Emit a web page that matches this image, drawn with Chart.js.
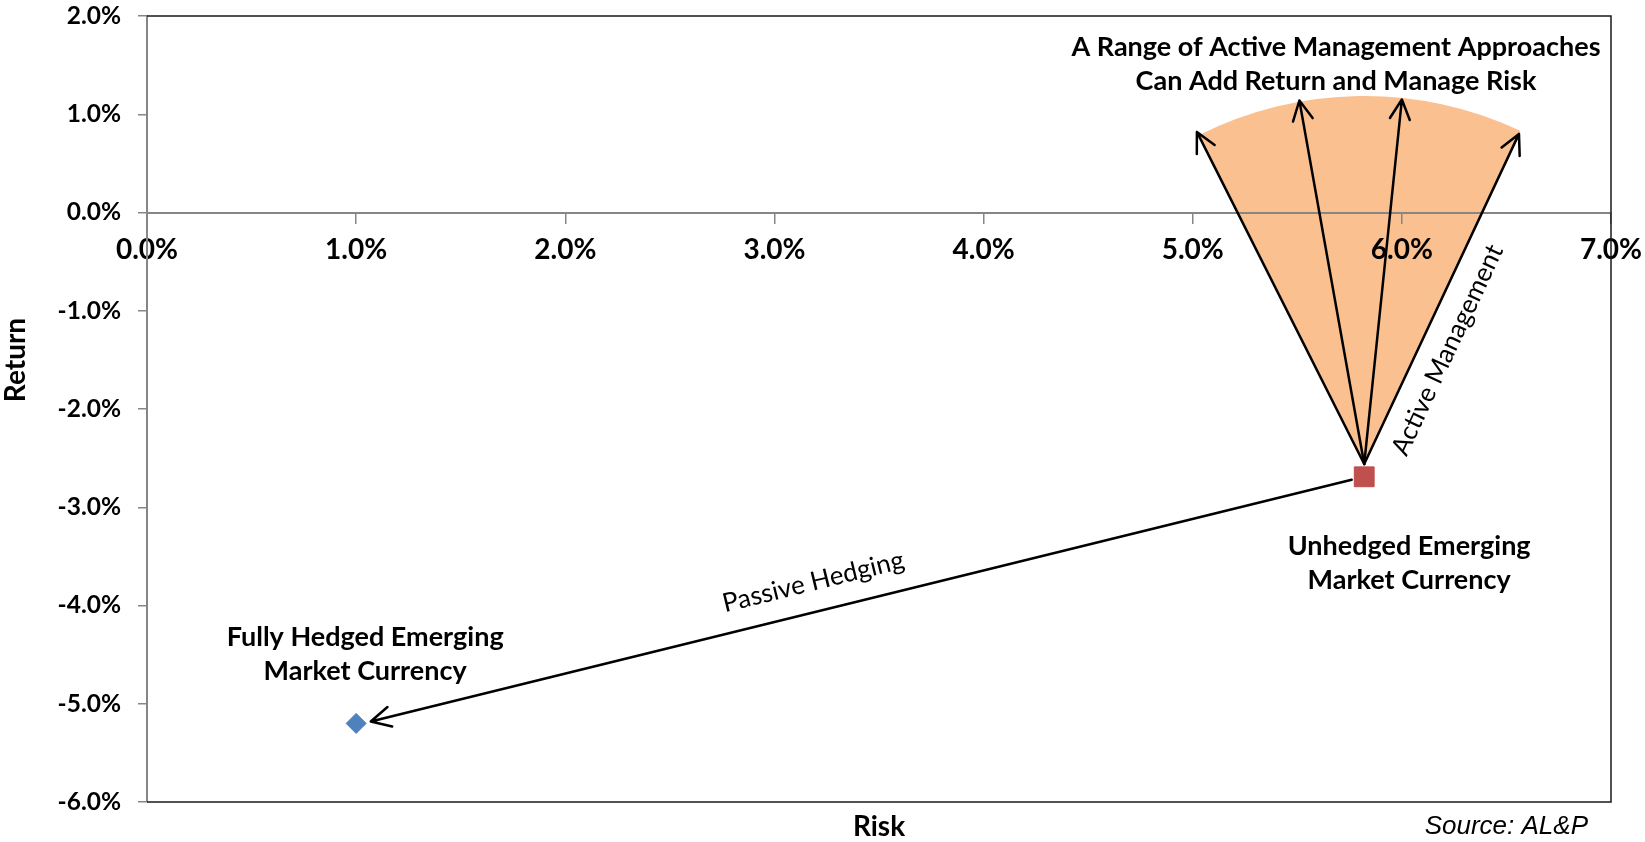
<!DOCTYPE html>
<html>
<head>
<meta charset="utf-8">
<title>Risk vs Return</title>
<script src="https://cdn.jsdelivr.net/npm/chart.js@4.4.1/dist/chart.umd.min.js"></script>
<style>
  html, body { margin: 0; padding: 0; background: #ffffff; }
  #wrap { width: 1645px; height: 842px; }
</style>
</head>
<body>
<div id="wrap"><canvas id="riskChart" width="1645" height="842"></canvas></div>
<script>
// axis ticks (percent)
const riskTicks = [0, 1, 2, 3, 4, 5, 6, 7];
const riskTickLabels = ["0.0%", "1.0%", "2.0%", "3.0%", "4.0%", "5.0%", "6.0%", "7.0%"];
const returnTicks = [-6, -5, -4, -3, -2, -1, 0, 1, 2];
const returnTickLabels = ["-6.0%", "-5.0%", "-4.0%", "-3.0%", "-2.0%", "-1.0%", "0.0%", "1.0%", "2.0%"];

// the two portfolios
const hedgedRisk = [1.0];
const hedgedReturn = [-5.2];
const unhedgedRisk = [5.82];
const unhedgedReturn = [-2.69];

// active management fan: common start, four arrow tips
const fanStart = [5.82, -2.56];
const fanTipRisk = [5.02, 5.51, 6.00, 6.56];
const fanTipReturn = [0.82, 1.14, 1.15, 0.80];

// passive hedging arrow
const hedgeFrom = [5.76, -2.72];
const hedgeTo = [1.07, -5.18];

const FONT = "Lato, 'Open Sans', sans-serif";

function drawArrow(ctx, x1, y1, x2, y2) {
  const ang = Math.atan2(y2 - y1, x2 - x1);
  const head = 22, spread = 0.47;
  ctx.beginPath();
  ctx.moveTo(x1, y1);
  ctx.lineTo(x2, y2);
  ctx.moveTo(x2 - head * Math.cos(ang - spread), y2 - head * Math.sin(ang - spread));
  ctx.lineTo(x2, y2);
  ctx.lineTo(x2 - head * Math.cos(ang + spread), y2 - head * Math.sin(ang + spread));
  ctx.stroke();
}

function drawLines(ctx, lines, x, y, gap) {
  lines.forEach((t, i) => ctx.fillText(t, x, y + i * gap));
}

const annotations = {
  id: "annotations",
  beforeDraw(chart) {
    const ctx = chart.ctx;
    const xs = chart.scales.x, ys = chart.scales.y;
    ctx.save();
    ctx.fillStyle = "#ffffff";
    ctx.fillRect(0, 0, chart.width, chart.height);

    // orange fan behind the axes
    const ox = xs.getPixelForValue(fanStart[0]);
    const oy = ys.getPixelForValue(fanStart[1]);
    const tips = fanTipRisk.map((r, i) => [xs.getPixelForValue(r), ys.getPixelForValue(fanTipReturn[i])]);
    const first = tips[0], last = tips[tips.length - 1];
    const a1 = Math.atan2(first[1] - oy, first[0] - ox);
    const a2 = Math.atan2(last[1] - oy, last[0] - ox);
    let rad = 0;
    tips.forEach(p => { rad += Math.hypot(p[0] - ox, p[1] - oy); });
    rad = rad / tips.length;
    ctx.fillStyle = "#fac090";
    ctx.beginPath();
    ctx.moveTo(ox, oy);
    ctx.arc(ox, oy, rad, a1, a2, false);
    ctx.closePath();
    ctx.fill();
    ctx.restore();
  },
  beforeDatasetsDraw(chart) {
    const ctx = chart.ctx;
    const xs = chart.scales.x, ys = chart.scales.y;
    const area = chart.chartArea;
    ctx.save();

    // plot frame (top, right, bottom)
    ctx.strokeStyle = "#1a1a1a";
    ctx.lineWidth = 1.5;
    ctx.beginPath();
    ctx.moveTo(area.left, area.top);
    ctx.lineTo(area.right, area.top);
    ctx.lineTo(area.right, area.bottom);
    ctx.lineTo(area.left, area.bottom);
    ctx.stroke();

    ctx.strokeStyle = "#000000";
    ctx.lineWidth = 2.5;
    ctx.lineCap = "round";
    ctx.lineJoin = "round";
    const ox = xs.getPixelForValue(fanStart[0]);
    const oy = ys.getPixelForValue(fanStart[1]);
    fanTipRisk.forEach((r, i) => {
      drawArrow(ctx, ox, oy, xs.getPixelForValue(r), ys.getPixelForValue(fanTipReturn[i]));
    });
    drawArrow(ctx,
      xs.getPixelForValue(hedgeFrom[0]), ys.getPixelForValue(hedgeFrom[1]),
      xs.getPixelForValue(hedgeTo[0]), ys.getPixelForValue(hedgeTo[1]));
    ctx.restore();
  },
  afterDraw(chart) {
    const ctx = chart.ctx;
    const xs = chart.scales.x, ys = chart.scales.y;
    const area = chart.chartArea;
    ctx.save();
    ctx.fillStyle = "#000000";
    ctx.textAlign = "center";
    ctx.textBaseline = "middle";

    ctx.font = "bold 27px " + FONT;
    drawLines(ctx, ["A Range of Active Management Approaches", "Can Add Return and Manage Risk"],
      xs.getPixelForValue(5.685), ys.getPixelForValue(1.685), 34.4);
    drawLines(ctx, ["Unhedged Emerging", "Market Currency"],
      xs.getPixelForValue(6.035), ys.getPixelForValue(-3.40), 33.5);
    drawLines(ctx, ["Fully Hedged Emerging", "Market Currency"],
      xs.getPixelForValue(1.043), ys.getPixelForValue(-4.32), 34.4);

    // axis titles
    ctx.font = "bold 28px " + FONT;
    ctx.fillText("Risk", (area.left + area.right) / 2, 827);
    ctx.save();
    ctx.translate(16, 360);
    ctx.rotate(-Math.PI / 2);
    ctx.fillText("Return", 0, 0);
    ctx.restore();

    // labels along the arrows
    ctx.font = "26px " + FONT;
    let px = xs.getPixelForValue(3.186), py = ys.getPixelForValue(-3.76);
    ctx.save();
    ctx.translate(px, py);
    ctx.rotate(Math.atan2(ys.getPixelForValue(hedgeFrom[1]) - ys.getPixelForValue(hedgeTo[1]),
                          xs.getPixelForValue(hedgeFrom[0]) - xs.getPixelForValue(hedgeTo[0])));
    ctx.fillText("Passive Hedging", 0, 0);
    ctx.restore();

    px = xs.getPixelForValue(6.218); py = ys.getPixelForValue(-1.40);
    const ox = xs.getPixelForValue(fanStart[0]), oy = ys.getPixelForValue(fanStart[1]);
    const lastX = xs.getPixelForValue(fanTipRisk[3]), lastY = ys.getPixelForValue(fanTipReturn[3]);
    ctx.save();
    ctx.translate(px, py);
    ctx.rotate(Math.atan2(lastY - oy, lastX - ox));
    ctx.fillText("Active Management", 0, 0);
    ctx.restore();

    ctx.font = "italic 26px 'Liberation Sans', Arial, sans-serif";
    ctx.textAlign = "right";
    ctx.fillText("Source: AL&P", 1588, 827);
    ctx.restore();
  }
};

function buildChart() {
  const ctx = document.getElementById("riskChart").getContext("2d");
  new Chart(ctx, {
    type: "scatter",
    data: {
      datasets: [
        {
          label: "Fully Hedged Emerging Market Currency",
          data: hedgedRisk.map((r, i) => ({ x: r, y: hedgedReturn[i] })),
          pointStyle: "rectRot",
          pointRadius: 10,
          backgroundColor: "#4f81bd",
          borderColor: "#4a7ebb",
          borderWidth: 1
        },
        {
          label: "Unhedged Emerging Market Currency",
          data: unhedgedRisk.map((r, i) => ({ x: r, y: unhedgedReturn[i] })),
          pointStyle: "rect",
          pointRadius: 14,
          backgroundColor: "#c0504d",
          borderColor: "#be4b48",
          borderWidth: 1
        }
      ]
    },
    options: {
      responsive: false,
      animation: false,
      events: [],
      layout: { padding: { left: 0, top: 16, right: 34, bottom: 40 } },
      plugins: { legend: { display: false }, tooltip: { enabled: false } },
      scales: {
        x: {
          type: "linear",
          min: 0,
          max: 7,
          position: { y: 0 },
          afterFit: (s) => { s.height = 0; s.paddingLeft = 0; s.paddingRight = 0; },
          afterBuildTicks: (s) => { s.ticks = riskTicks.map(v => ({ value: v })); },
          ticks: {
            callback: (v, i) => riskTickLabels[i],
            font: { family: FONT, size: 28, weight: "bold" },
            color: "#000000",
            padding: 11,
            maxRotation: 0
          },
          grid: { drawOnChartArea: false, tickLength: 10, color: "#868686", lineWidth: 1.5 },
          border: { color: "#868686", width: 2 }
        },
        y: {
          type: "linear",
          min: -6,
          max: 2,
          position: "left",
          afterFit: (s) => { s.width = 147; s.paddingTop = 0; s.paddingBottom = 0; },
          afterBuildTicks: (s) => { s.ticks = returnTicks.map(v => ({ value: v })); },
          ticks: {
            callback: (v, i) => returnTickLabels[i],
            font: { family: FONT, size: 24.5, weight: "bold" },
            color: "#000000",
            padding: 17
          },
          grid: { drawOnChartArea: false, tickLength: 9, color: "#868686", lineWidth: 1.5 },
          border: { color: "#868686", width: 2 }
        }
      }
    },
    plugins: [annotations]
  });
}

Promise.all([
  document.fonts.load("bold 24px Lato"),
  document.fonts.load("24px Lato"),
  document.fonts.load("italic 25px 'Liberation Sans'")
]).then(buildChart, buildChart);
</script>
</body>
</html>
